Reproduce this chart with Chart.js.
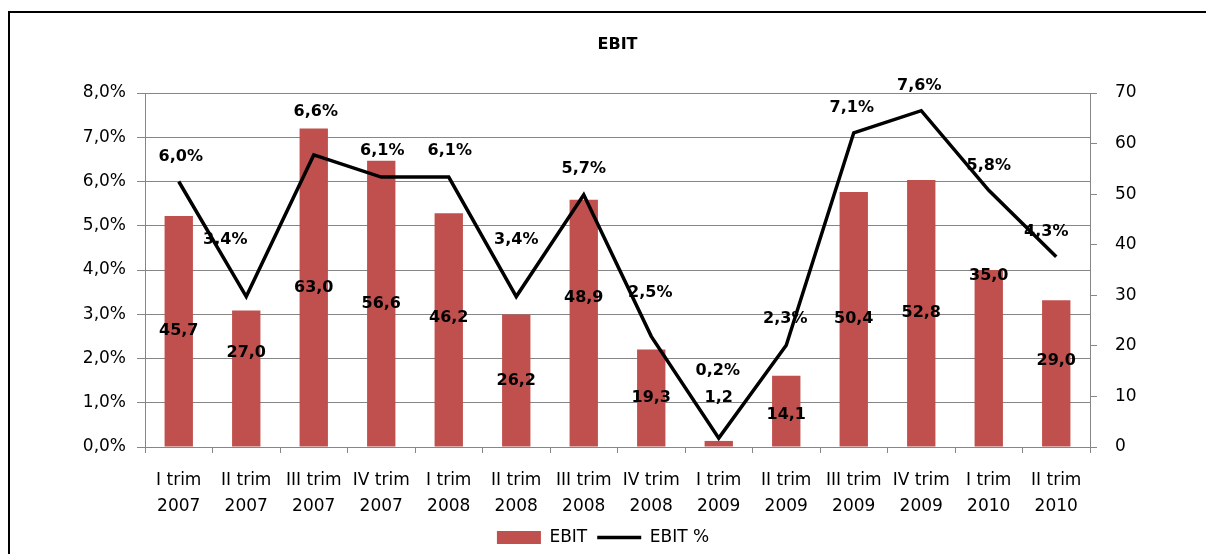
<!DOCTYPE html>
<html>
<head>
<meta charset="utf-8">
<script src="https://cdn.jsdelivr.net/npm/chart.js@4/dist/chart.umd.min.js"></script>
<style>
  html, body { margin: 0; padding: 0; background: #fff; overflow: hidden; }
  #frame { position: absolute; left: 8px; top: 11px; width: 1400px; height: 800px; border: 2px solid #000; }
  #wrap { position: absolute; left: 0; top: 0; width: 1206px; height: 556px; }
</style>
</head>
<body>
<div id="frame"></div>
<div id="wrap"><canvas id="chart" width="1206" height="556"></canvas></div>
<script>
const quarters = [
  ["I trim", "2007"], ["II trim", "2007"], ["III trim", "2007"], ["IV trim", "2007"],
  ["I trim", "2008"], ["II trim", "2008"], ["III trim", "2008"], ["IV trim", "2008"],
  ["I trim", "2009"], ["II trim", "2009"], ["III trim", "2009"], ["IV trim", "2009"],
  ["I trim", "2010"], ["II trim", "2010"]
];
const ebit = [45.7, 27.0, 63.0, 56.6, 46.2, 26.2, 48.9, 19.3, 1.2, 14.1, 50.4, 52.8, 35.0, 29.0];
const ebitPct = [6.0, 3.4, 6.6, 6.1, 6.1, 3.4, 5.7, 2.5, 0.2, 2.3, 7.1, 7.6, 5.8, 4.3];

// label nudges (px), like the hand-moved labels in the original
const barLabelDy = [0, -26, 0, 0, -12, 0, -25, 0, -46, 4, 0, 0, -82, -13];
const lineLabelDy = [-25, -57, -43, -26, -26, -57, -26, -44, -67, -26, -25, -25, -25, -25];
const lineLabelDx = [2, -21, 2, 1, 1, 0, 0, -1, -1, -1, -2, -2, 0, -10];

const FONT = "'DejaVu Sans', sans-serif";
const GRID = "#868686";
const fmt = (v) => v.toFixed(1).replace(".", ",");

const labelsPlugin = {
  id: "labels",
  afterDatasetsDraw(chart) {
    const ctx = chart.ctx;
    const area = chart.chartArea;
    ctx.save();
    ctx.fillStyle = "#000";
    ctx.textAlign = "center";
    ctx.textBaseline = "middle";
    ctx.font = "bold 16px " + FONT;
    ctx.fillText("EBIT", (area.left + area.right) / 2, 45);

    chart.getDatasetMeta(0).data.forEach((bar, i) => {
      const y = (bar.y + bar.base) / 2 + barLabelDy[i];
      ctx.fillText(fmt(ebit[i]), bar.x, y);
    });
    chart.getDatasetMeta(1).data.forEach((pt, i) => {
      ctx.fillText(fmt(ebitPct[i]) + "%", pt.x + lineLabelDx[i], pt.y + lineLabelDy[i]);
    });
    ctx.restore();
  }
};

new Chart(document.getElementById("chart"), {
  type: "bar",
  data: {
    labels: quarters,
    datasets: [
      {
        type: "bar",
        label: "EBIT",
        data: ebit,
        yAxisID: "y1",
        backgroundColor: "#C0504D",
        borderWidth: 0,
        barPercentage: 0.42,
        categoryPercentage: 1,
        pointStyle: "rect",
        order: 2
      },
      {
        type: "line",
        label: "EBIT %",
        data: ebitPct,
        yAxisID: "y",
        borderColor: "#000",
        backgroundColor: "#000",
        borderWidth: 3.5,
        pointRadius: 0,
        pointStyle: "line",
        tension: 0,
        order: 1
      }
    ]
  },
  options: {
    responsive: false,
    animation: false,
    devicePixelRatio: 1,
    layout: { padding: { top: 93, left: 0, right: 0, bottom: 0 } },
    plugins: {
      title: { display: false },
      tooltip: { enabled: false },
      legend: {
        position: "bottom",
        labels: {
          color: "#000",
          font: { family: FONT, size: 17 },
          usePointStyle: true,
          pointStyleWidth: 44,
          boxHeight: 13,
          padding: 10,
          sort: (a, b) => a.datasetIndex - b.datasetIndex
        }
      }
    },
    scales: {
      x: {
        offset: true,
        afterFit: (s) => { s.height = 72; },
        grid: { display: true, drawOnChartArea: false, color: GRID, tickLength: 6, offset: true },
        border: { color: GRID },
        ticks: {
          color: "#000",
          padding: 15,
          maxRotation: 0,
          autoSkip: false,
          font: { family: FONT, size: 17, lineHeight: 1.53 }
        }
      },
      y: {
        position: "left",
        min: 0,
        max: 8,
        afterFit: (s) => { s.width = 145; },
        grid: { color: GRID, tickLength: 8 },
        border: { color: GRID },
        ticks: {
          stepSize: 1,
          color: "#000",
          padding: 11,
          font: { family: FONT, size: 17 },
          callback: (v) => fmt(v) + "%"
        }
      },
      y1: {
        position: "right",
        min: 0,
        max: 70,
        afterFit: (s) => { s.width = 116; },
        grid: { drawOnChartArea: false, color: GRID, tickLength: 7 },
        border: { color: GRID },
        ticks: {
          stepSize: 10,
          color: "#000",
          padding: 18,
          font: { family: FONT, size: 17 }
        }
      }
    }
  },
  plugins: [labelsPlugin]
});
</script>
</body>
</html>
